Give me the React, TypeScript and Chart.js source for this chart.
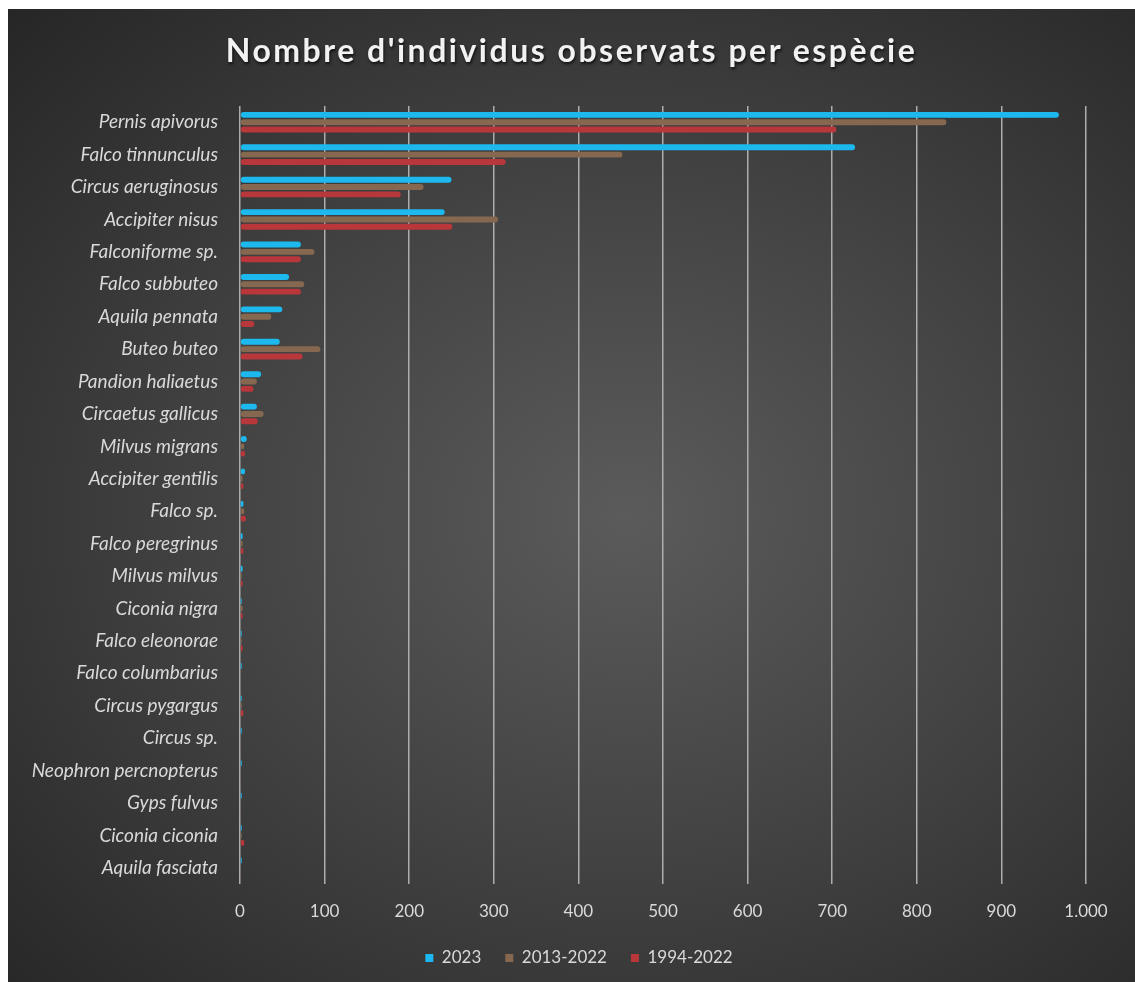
import React, { useEffect, useRef } from "react";
import { Chart, registerables } from "chart.js";

Chart.register(...registerables);

const species = [
  "Pernis apivorus",
  "Falco tinnunculus",
  "Circus aeruginosus",
  "Accipiter nisus",
  "Falconiforme sp.",
  "Falco subbuteo",
  "Aquila pennata",
  "Buteo buteo",
  "Pandion haliaetus",
  "Circaetus gallicus",
  "Milvus migrans",
  "Accipiter gentilis",
  "Falco sp.",
  "Falco peregrinus",
  "Milvus milvus",
  "Ciconia nigra",
  "Falco eleonorae",
  "Falco columbarius",
  "Circus pygargus",
  "Circus sp.",
  "Neophron percnopterus",
  "Gyps fulvus",
  "Ciconia ciconia",
  "Aquila fasciata",
];

const seriesLabels = ["2023", "2013-2022", "1994-2022"];

const values2023 = [968, 727, 250, 242, 72, 58, 50, 47, 25, 20, 8, 6, 4, 3, 3, 2, 2, 2, 2, 2, 2, 2, 2, 2];
const values2013 = [835, 452, 217, 305, 88, 76, 37, 95, 20, 28, 5, 3, 5, 3, 2, 3, 2, 1, 2, 1, 1, 1, 2, 0];
const values1994 = [705, 314, 190, 251, 72, 72, 17, 74, 16, 21, 6, 4, 7, 4, 3, 3, 3, 1, 4, 1, 1, 1, 5, 1];

const axisMax = 1000;
const axisStep = 100;

const titleText = "Nombre d'individus observats per espècie";

const textColor = "#d9d9d9";
const fontFamily = "Lato, 'Open Sans', sans-serif";

function formatThousands(v: number): string {
  return String(v).replace(/\B(?=(\d{3})+(?!\d))/g, ".");
}

const legendShift = {
  id: "legendShift",
  afterLayout(chart: any) {
    const lg = chart.legend;
    if (lg) {
      lg.left += 32;
      lg.right += 32;
    }
  },
};

export default function App() {
  const canvasRef = useRef<HTMLCanvasElement>(null);

  useEffect(() => {
    if (!canvasRef.current) return;
    const chart = new Chart(canvasRef.current, {
      type: "bar",
      data: {
        labels: species,
        datasets: [
          { label: seriesLabels[0], data: values2023, backgroundColor: "#1cb8ee" },
          { label: seriesLabels[1], data: values2013, backgroundColor: "#85684f" },
          { label: seriesLabels[2], data: values1994, backgroundColor: "#b8373a" },
        ],
      },
      options: {
        indexAxis: "y",
        animation: false,
        responsive: true,
        maintainAspectRatio: false,
        layout: { padding: { top: 97, right: 49, bottom: 5.5, left: 0 } },
        datasets: {
          bar: {
            categoryPercentage: 0.68,
            barPercentage: 0.8,
            borderRadius: 3,
            borderSkipped: false,
            borderWidth: 0,
          },
        },
        scales: {
          x: {
            min: 0,
            max: axisMax,
            ticks: {
              stepSize: axisStep,
              color: textColor,
              font: { family: fontFamily, size: 17 },
              padding: 17.5,
              callback: (v: any) => formatThousands(Number(v)),
            },
            grid: { color: "#adadad", lineWidth: 1.5, drawTicks: false },
            border: { display: false },
            afterFit: (s: any) => {
              s.height = 41.5;
            },
          },
          y: {
            ticks: {
              color: textColor,
              font: { family: fontFamily, size: 19, style: "italic" },
              padding: 22,
              autoSkip: false,
            },
            grid: { display: false, drawTicks: false },
            border: { display: false },
            afterFit: (s: any) => {
              s.width = 232;
            },
          },
        },
        plugins: {
          legend: {
            position: "bottom",
            labels: {
              boxWidth: 8,
              boxHeight: 8,
              padding: 24,
              color: textColor,
              font: { family: fontFamily, size: 17 },
            },
          },
          tooltip: { enabled: false },
        },
      },
      plugins: [legendShift],
    });
    return () => chart.destroy();
  }, []);

  return (
    <div
      style={{
        position: "fixed",
        left: 8,
        top: 9,
        width: 1127,
        height: 973,
        background:
          "radial-gradient(ellipse farthest-corner at 55% 52%, #5b5b5b 0%, #444444 45%, #262626 100%)",
        overflow: "hidden",
      }}
    >
      <div
        style={{
          position: "absolute",
          left: 0,
          right: 0,
          top: 23,
          textAlign: "center",
          fontFamily: fontFamily,
          fontWeight: 700,
          fontSize: 32,
          lineHeight: "36px",
          letterSpacing: "2.5px",
          color: "#f2f2f2",
          textShadow: "1px 2px 3px rgba(0,0,0,0.7)",
        }}
      >
        {titleText}
      </div>
      <div style={{ position: "absolute", left: 0, top: 0, width: 1127, height: 973 }}>
        <canvas ref={canvasRef} />
      </div>
    </div>
  );
}
